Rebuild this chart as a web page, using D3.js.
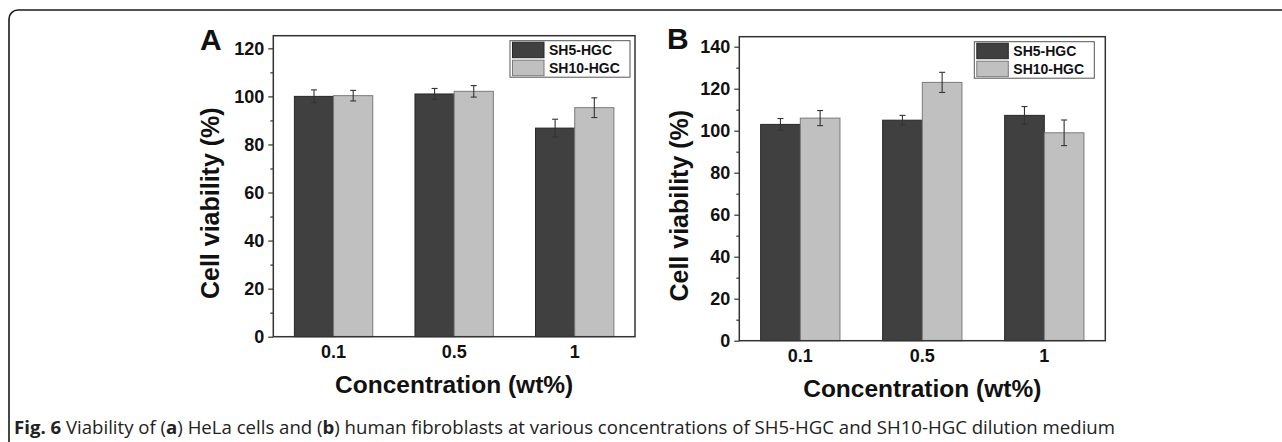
<!DOCTYPE html>
<html>
<head>
<meta charset="utf-8">
<script src="https://cdn.jsdelivr.net/npm/d3@7"></script>
<style>
    body { margin: 0; background: #fff; }
    svg { display: block; }
</style>
</head>
<body>
<div id="figure"></div>
<script>
// categories & series
const concentrations = ["0.1", "0.5", "1"];
const seriesNames = ["SH5-HGC", "SH10-HGC"];
const seriesColors = ["#404040", "#c0c0c0"];
const seriesStrokes = ["#262626", "#7a7a7a"];

// (A) HeLa cells
const helaSH5 = [100.0, 101.0, 86.8];
const helaSH5Err = [2.7, 2.3, 3.7];
const helaSH10 = [100.3, 102.1, 95.3];
const helaSH10Err = [2.2, 2.4, 4.1];

// (B) human fibroblasts
const fibroSH5 = [103.0, 105.0, 107.3];
const fibroSH5Err = [2.8, 2.3, 4.2];
const fibroSH10 = [106.0, 123.0, 99.0];
const fibroSH10Err = [3.6, 4.8, 6.1];

// tick labels
const yTicksA = [0, 20, 40, 60, 80, 100, 120];
const yMinorA = [10, 30, 50, 70, 90, 110];
const yTicksB = [0, 20, 40, 60, 80, 100, 120, 140];
const yMinorB = [10, 30, 50, 70, 90, 110, 130];

const yTitle = "Cell viability (%)";
const xTitle = "Concentration (wt%)";

const svg = d3.select("#figure").append("svg")
    .attr("width", 1282)
    .attr("height", 442);

// outer figure border
svg.append("rect")
    .attr("x", 9).attr("y", 10)
    .attr("width", 1400).attr("height", 600)
    .attr("rx", 9).attr("ry", 9)
    .attr("fill", "none")
    .attr("stroke", "#1a1a1a")
    .attr("stroke-width", 1.6);

function toRows(vals1, err1, vals2, err2) {
    return concentrations.map((c, i) => ({
        conc: c,
        values: [
            {name: seriesNames[0], value: vals1[i], err: err1[i]},
            {name: seriesNames[1], value: vals2[i], err: err2[i]}
        ]
    }));
}

function drawPanel(cfg) {
    let vis = {};
    vis.g = svg.append("g").attr("class", "panel");

    vis.x = d3.scaleBand()
        .domain(concentrations)
        .range([cfg.left, cfg.right])
        .paddingInner(0.35)
        .paddingOuter(0.175);
    vis.xInner = d3.scaleBand()
        .domain(seriesNames)
        .range([0, vis.x.bandwidth()]);
    vis.y = d3.scaleLinear()
        .domain([0, cfg.yMax])
        .range([cfg.bottom, cfg.top]);

    // bars
    let groups = vis.g.selectAll(".grp")
        .data(cfg.rows)
        .enter().append("g")
        .attr("class", "grp")
        .attr("transform", d => "translate(" + vis.x(d.conc) + ",0)");

    groups.selectAll("rect")
        .data(d => d.values)
        .enter().append("rect")
        .attr("x", d => vis.xInner(d.name))
        .attr("y", d => vis.y(d.value))
        .attr("width", vis.xInner.bandwidth())
        .attr("height", d => vis.y(0) - vis.y(d.value))
        .attr("fill", (d, i) => seriesColors[i])
        .attr("stroke", (d, i) => seriesStrokes[i])
        .attr("stroke-width", 1);

    // error bars
    let eb = groups.selectAll(".err")
        .data(d => d.values)
        .enter().append("g")
        .attr("class", "err")
        .attr("stroke", "#333")
        .attr("stroke-width", 1.1);
    eb.append("line")
        .attr("x1", d => vis.xInner(d.name) + vis.xInner.bandwidth() / 2)
        .attr("x2", d => vis.xInner(d.name) + vis.xInner.bandwidth() / 2)
        .attr("y1", d => vis.y(d.value + d.err))
        .attr("y2", d => vis.y(d.value - d.err));
    [1, -1].forEach(s => {
        eb.append("line")
            .attr("x1", d => vis.xInner(d.name) + vis.xInner.bandwidth() / 2 - 3)
            .attr("x2", d => vis.xInner(d.name) + vis.xInner.bandwidth() / 2 + 3)
            .attr("y1", d => vis.y(d.value + s * d.err))
            .attr("y2", d => vis.y(d.value + s * d.err));
    });

    // y axis, majors + minors
    vis.yAxis = d3.axisLeft(vis.y)
        .tickValues(cfg.yTicks)
        .tickSize(5)
        .tickPadding(4)
        .tickSizeOuter(0);
    let ya = vis.g.append("g")
        .attr("transform", "translate(" + cfg.left + ",0)")
        .call(vis.yAxis);
    ya.select(".domain").remove();
    ya.selectAll("line").attr("stroke", "#333").attr("stroke-width", 1.2);
    ya.selectAll("text")
        .attr("font-family", "Liberation Sans, Arial, sans-serif")
        .attr("font-weight", "bold")
        .attr("font-size", 18)
        .attr("fill", "#111");

    let ym = vis.g.append("g")
        .attr("transform", "translate(" + cfg.left + ",0)")
        .call(d3.axisLeft(vis.y).tickValues(cfg.yMinor).tickSize(3).tickFormat(""));
    ym.select(".domain").remove();
    ym.selectAll("line").attr("stroke", "#333").attr("stroke-width", 1.2);

    // x axis labels
    let xa = vis.g.append("g")
        .attr("transform", "translate(0," + cfg.bottom + ")")
        .call(d3.axisBottom(vis.x).tickSize(0).tickPadding(9));
    xa.select(".domain").remove();
    xa.selectAll("text")
        .attr("font-family", "Liberation Sans, Arial, sans-serif")
        .attr("font-weight", "bold")
        .attr("font-size", 18)
        .attr("fill", "#111");

    // plot frame
    vis.g.append("rect")
        .attr("x", cfg.left).attr("y", cfg.top)
        .attr("width", cfg.right - cfg.left)
        .attr("height", cfg.bottom - cfg.top)
        .attr("fill", "none")
        .attr("stroke", "#333")
        .attr("stroke-width", 1.5);

    // titles
    vis.g.append("text")
        .text(yTitle)
        .attr("transform", "translate(" + cfg.yTitleX + "," + ((cfg.top + cfg.bottom) / 2 + 17) + ") rotate(-90)")
        .attr("text-anchor", "middle")
        .attr("font-family", "Liberation Sans, Arial, sans-serif")
        .attr("font-weight", "bold")
        .attr("font-size", 25)
        .attr("fill", "#111");
    vis.g.append("text")
        .text(xTitle)
        .attr("x", (cfg.left + cfg.right) / 2)
        .attr("y", cfg.bottom + 56)
        .attr("text-anchor", "middle")
        .attr("font-family", "Liberation Sans, Arial, sans-serif")
        .attr("font-weight", "bold")
        .attr("font-size", 24.5)
        .attr("fill", "#111");
    vis.g.append("text")
        .text(cfg.letter)
        .attr("x", cfg.letterX)
        .attr("y", cfg.letterY)
        .attr("font-family", "Liberation Sans, Arial, sans-serif")
        .attr("font-weight", "bold")
        .attr("font-size", 30)
        .attr("fill", "#111");

    // legend
    let lg = vis.g.append("g")
        .attr("transform", "translate(" + (cfg.right - cfg.legendInset - 120) + "," + (cfg.top + 5) + ")");
    lg.append("rect")
        .attr("width", 120).attr("height", 36.5)
        .attr("fill", "#fff")
        .attr("stroke", "#555")
        .attr("stroke-width", 1);
    seriesNames.forEach((name, i) => {
        lg.append("rect")
            .attr("x", 2.5).attr("y", 1.5 + i * 18)
            .attr("width", 31.5).attr("height", 15.5)
            .attr("fill", seriesColors[i])
            .attr("stroke", seriesStrokes[i]);
        lg.append("text")
            .text(name)
            .attr("x", 39)
            .attr("y", 14 + i * 18.5)
            .attr("font-family", "Liberation Sans, Arial, sans-serif")
            .attr("font-weight", "bold")
            .attr("font-size", 14)
            .attr("fill", "#111");
    });
}

drawPanel({
    rows: toRows(helaSH5, helaSH5Err, helaSH10, helaSH10Err),
    left: 273.3, right: 635, top: 35.7, bottom: 336.7,
    yMax: 125.25, yTicks: yTicksA, yMinor: yMinorA,
    yTitleX: 219, letter: "A", letterX: 200, letterY: 50, legendInset: 5
});

drawPanel({
    rows: toRows(fibroSH5, fibroSH5Err, fibroSH10, fibroSH10Err),
    left: 739.3, right: 1105.3, top: 36.7, bottom: 340.7,
    yMax: 144.76, yTicks: yTicksB, yMinor: yMinorB,
    yTitleX: 688, letter: "B", letterX: 667, letterY: 48.5, legendInset: 11
});

// caption
let cap = svg.append("text")
    .attr("x", 14)
    .attr("y", 434)
    .attr("font-family", "Open Sans, Noto Sans, sans-serif")
    .attr("font-size", 18.6)
    .attr("fill", "#222");
cap.append("tspan").attr("font-weight", "bold").text("Fig. 6");
cap.append("tspan").text(" Viability of (");
cap.append("tspan").attr("font-weight", "bold").text("a");
cap.append("tspan").text(") HeLa cells and (");
cap.append("tspan").attr("font-weight", "bold").text("b");
cap.append("tspan").text(") human fibroblasts at various concentrations of SH5-HGC and SH10-HGC dilution medium");
</script>
</body>
</html>
